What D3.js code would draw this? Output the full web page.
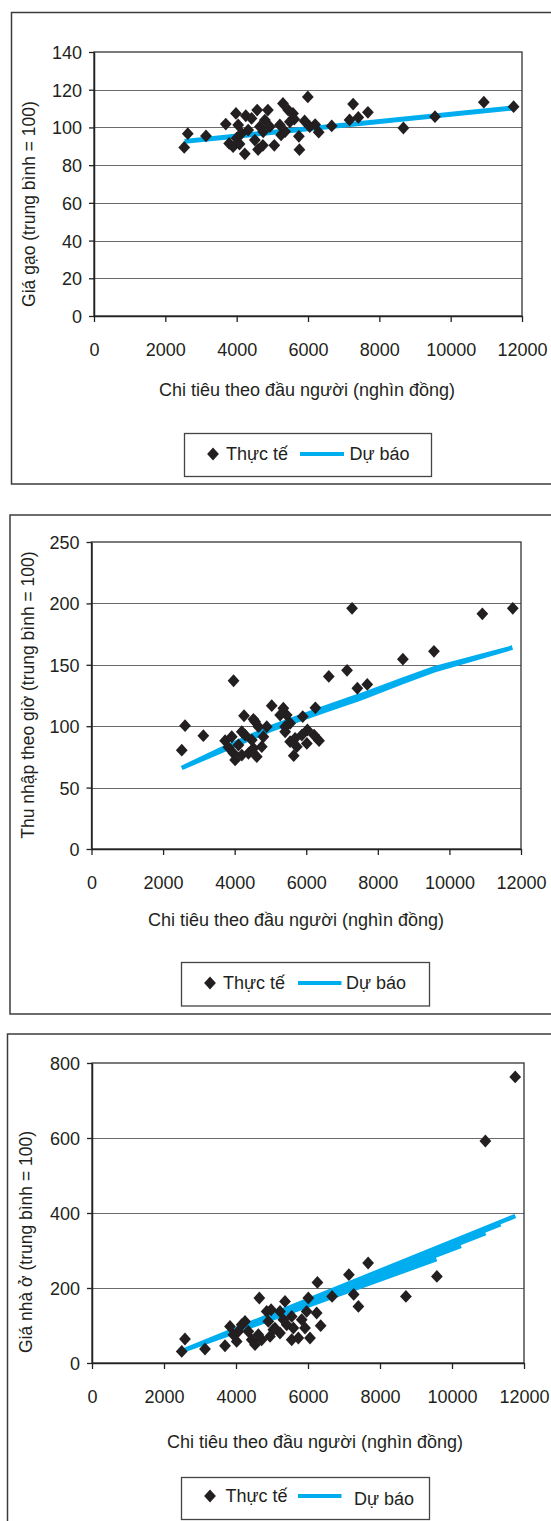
<!DOCTYPE html>
<html>
<head>
<meta charset="utf-8">
<script src="https://cdn.jsdelivr.net/npm/d3@7"></script>
<style>
  html, body { margin: 0; padding: 0; background: #fff; }
  svg { display: block; }
  text { font-family: "Liberation Sans", Arial, Helvetica, sans-serif; fill: #231f20; }
</style>
</head>
<body>
<svg id="chart" width="551" height="1521"></svg>
<script>
// ---- data -------------------------------------------------------------
const xTickValues = [0, 2000, 4000, 6000, 8000, 10000, 12000];
const xTitle = "Chi tiêu theo đầu người (nghìn đồng)";
const legendActual = "Thực tế";
const legendForecast = "Dự báo";

// Rice price vs. per-capita spending
const riceTicks = [0, 20, 40, 60, 80, 100, 120, 140];
const riceTitle = "Giá gạo (trung bình = 100)";
const riceX = [2530, 2630, 3140, 3695, 3790, 3980, 3900, 4228, 4256, 4080, 4600, 4735, 4575, 4875,
  5055, 5298, 5245, 5360, 5580, 5616, 5760, 5745, 5995, 5905, 6050, 6200, 6300, 6665, 7165, 7265,
  7410, 7680, 8675, 9560, 10930, 11765, 4043, 4137, 4417, 4323, 4651, 4791, 4931, 4510, 3997,
  4744, 5445, 5492, 5211];
const riceY = [89.4, 96.7, 95.5, 101.8, 91.5, 107.4, 89.8, 86, 106.2, 91.2, 88.3, 90.5, 109.2, 109.2,
  90.5, 112.7, 96, 97.8, 107.4, 104.4, 88.2, 95.3, 116.2, 103.4, 100.4, 101.5, 97.5, 100.8, 104, 112.4,
  105.3, 108, 99.7, 105.7, 113.4, 111, 101.3, 96.9, 104.8, 98.6, 100.4, 103.9, 100.4, 93.3, 94.3,
  97.7, 109.2, 103, 101.3];
const riceFitX = [2540, 11760];
const riceFitY = [92.6, 110.3];

// Hourly earnings vs. per-capita spending
const wageTicks = [0, 50, 100, 150, 200, 250];
const wageTitle = "Thu nhập theo giờ (trung bình = 100)";
const wageX = [2522, 2614, 3125, 3969, 4262, 5036, 5360, 5454, 5902, 6255, 6630, 7140, 7428, 7705,
  7280, 8700, 9568, 10920, 11770, 3733, 3826, 3966, 4013, 4106, 4200, 4292, 4385, 4525, 4572, 4665,
  4618, 4802, 4897, 4758, 4478, 3919, 4200, 4525, 5271, 5411, 5411, 5550, 5690, 5737, 5650, 5876,
  6016, 6032, 6218, 6358, 5550];
const wageY = [80.5, 100.4, 92.3, 137, 108.5, 116.7, 114.6, 109.1, 107.8, 115, 140.5, 145.5, 130.9,
  134, 196, 154.6, 161, 191.5, 196, 88.2, 82.8, 77.9, 72.5, 84.7, 76.5, 92.8, 77.9, 82, 103.7, 99.6,
  75.2, 91.4, 99.6, 83.3, 88.8, 91.4, 95.5, 105.6, 109.1, 99.6, 95.5, 87.4, 90.1, 83.3, 76, 92.8,
  86, 96.9, 92.8, 88.2, 102.4];
const wageFitX = [2520, 3600, 5000, 6500, 7500, 8700, 9570, 11760, 9570, 8700, 7500, 6500, 5000, 3600, 2520];
const wageFitY = [66, 81, 99, 115, 125, 138, 147, 164, 145.5, 136, 122.5, 112.5, 97, 79.5, 66];

// Housing price vs. per-capita spending
const houseTicks = [0, 200, 400, 600, 800];
const houseTitle = "Giá nhà ở (trung bình = 100)";
const houseX = [2492, 2583, 3139, 3695, 3833, 3926, 4019, 4065, 4158, 4250, 4343, 4436, 4528, 4648,
  4713, 4620, 4852, 4898, 4945, 5037, 5222, 5361, 5315, 5222, 5408, 5547, 5593, 5547, 5732, 5825,
  5917, 6056, 6009, 5963, 6241, 6352, 6262, 6670, 7136, 7270, 7400, 7670, 8720, 9580, 10927, 11756,
  4976, 5083];
const houseY = [31, 64, 37.3, 46, 97.6, 75.5, 57.6, 84.3, 102, 111, 84.3, 62, 48.8, 173.3, 62, 75.5,
  137.6, 111, 71, 88.8, 137.6, 164.3, 115.5, 80, 102, 124.3, 93.3, 62, 66.7, 115.5, 93.3, 66.7,
  173.3, 137.6, 133.3, 99.5, 215, 177.6, 235.5, 183, 151, 266.7, 177.6, 231, 592, 763, 142, 93];
const houseFitX = [2500, 9570, 2500, 10250, 2500, 10930, 2500, 11350, 2500, 11760];
const houseFitY = [32, 277, 32, 312, 32, 346, 32, 370, 32, 392];

// ---- layout of the three stacked charts --------------------------------
const panels = [
  { frame: [11.5, 12.5, 620, 471.5], plot: { l: 94, r: 522, t: 52, b: 316 },
    ticks: riceTicks, xs: riceX, ys: riceY, fx: riceFitX, fy: riceFitY, yTitle: riceTitle,
    yTitlePos: [29, 204], xLabelY: 350, xTitlePos: [307, 390], fitWidth: 5,
    legend: { box: [184.5, 433.5, 247, 43], cy: 454, diamondX: 213, textX: 226, lineX: [300, 344], text2X: 349.5, text2Dy: 0 } },
  { frame: [10, 515, 620, 499], plot: { l: 91.5, r: 521, t: 542, b: 849 },
    ticks: wageTicks, xs: wageX, ys: wageY, fx: wageFitX, fy: wageFitY, yTitle: wageTitle,
    yTitlePos: [28, 695], xLabelY: 883, xTitlePos: [296, 920], fitWidth: 4.5,
    legend: { box: [181.5, 962.5, 248, 43.5], cy: 983, diamondX: 210, textX: 223, lineX: [298, 341.5], text2X: 346, text2Dy: 0 } },
  { frame: [7.5, 1034, 620, 520], plot: { l: 92, r: 524, t: 1063, b: 1363 },
    ticks: houseTicks, xs: houseX, ys: houseY, fx: houseFitX, fy: houseFitY, yTitle: houseTitle,
    yTitlePos: [26, 1242], xLabelY: 1397, xTitlePos: [315, 1442], fitWidth: 4.5,
    legend: { box: [181.5, 1477.5, 248, 42], cy: 1496, diamondX: 210, textX: 225.5, lineX: [298, 341.5], text2X: 354, text2Dy: 3 } }
];

const svg = d3.select("#chart");
const ink = "#231f20";
const blue = "#00aeef";
const diamond = "M0,-6.4L5.9,0L0,6.4L-5.9,0Z";
const fontSize = 18;

panels.forEach(p => {
  const g = svg.append("g");
  const { l, r, t, b } = p.plot;
  const yMax = p.ticks[p.ticks.length - 1];
  const x = d3.scaleLinear().domain([0, 12000]).range([l, r]);
  const y = d3.scaleLinear().domain([0, yMax]).range([b, t]);

  // outer frame
  g.append("rect")
    .attr("x", p.frame[0]).attr("y", p.frame[1])
    .attr("width", p.frame[2]).attr("height", p.frame[3])
    .attr("fill", "none").attr("stroke", "#3c3c3c").attr("stroke-width", 1.5);

  // horizontal gridlines
  g.append("g").selectAll("line")
    .data(p.ticks.slice(1, -1))
    .join("line")
    .attr("x1", l).attr("x2", r)
    .attr("y1", d => Math.round(y(d)) + 0.5).attr("y2", d => Math.round(y(d)) + 0.5)
    .attr("stroke", "#6a6a6a").attr("stroke-width", 1.2);

  // plot area border
  g.append("rect")
    .attr("x", l).attr("y", t).attr("width", r - l).attr("height", b - t)
    .attr("fill", "none").attr("stroke", "#333").attr("stroke-width", 1.3);

  // x axis
  const xAxis = g.append("g")
    .attr("transform", `translate(0,${b})`)
    .call(d3.axisBottom(x).tickValues(xTickValues).tickFormat(d3.format("d")).tickSize(6).tickSizeOuter(0));
  xAxis.select(".domain").attr("stroke", "#222").attr("stroke-width", 1.5);
  xAxis.selectAll(".tick line").attr("stroke", "#222").attr("stroke-width", 1.3);
  xAxis.selectAll(".tick text")
    .attr("y", p.xLabelY - b).attr("dy", "0.35em")
    .style("font-size", fontSize + "px").attr("fill", ink);
  xAxis.attr("font-family", null);

  // y axis
  const yAxis = g.append("g")
    .attr("transform", `translate(${l},0)`)
    .call(d3.axisLeft(y).tickValues(p.ticks).tickFormat(d3.format("d")).tickSize(5).tickSizeOuter(0));
  yAxis.select(".domain").attr("stroke", "#222").attr("stroke-width", 1.5);
  yAxis.selectAll(".tick line").attr("stroke", "#222").attr("stroke-width", 1.3);
  yAxis.selectAll(".tick text")
    .attr("x", -12).attr("dy", "0.36em")
    .style("font-size", fontSize + "px").attr("fill", ink);
  yAxis.attr("font-family", null);

  // axis titles
  g.append("text")
    .attr("x", p.xTitlePos[0]).attr("y", p.xTitlePos[1]).attr("dy", "0.36em")
    .attr("text-anchor", "middle").style("font-size", fontSize + "px")
    .text(xTitle);
  g.append("text")
    .attr("transform", `translate(${p.yTitlePos[0]},${p.yTitlePos[1]}) rotate(-90)`)
    .attr("dy", "0.36em").attr("text-anchor", "middle").style("font-size", "17.5px")
    .text(p.yTitle);

  // forecast line (predicted values joined in data order)
  const fitPts = p.fx.map((v, i) => [v, p.fy[i]]);
  g.append("path")
    .datum(fitPts)
    .attr("d", d3.line().x(d => x(d[0])).y(d => y(d[1])))
    .attr("fill", "none").attr("stroke", blue).attr("stroke-width", p.fitWidth)
    .attr("stroke-linejoin", "miter").attr("stroke-miterlimit", 2);

  // observed values
  const pts = p.xs.map((v, i) => [v, p.ys[i]]);
  g.append("g").selectAll("path")
    .data(pts)
    .join("path")
    .attr("d", diamond)
    .attr("transform", d => `translate(${x(d[0])},${y(d[1])})`)
    .attr("fill", ink);

  // legend
  const L = p.legend;
  g.append("rect")
    .attr("x", L.box[0]).attr("y", L.box[1]).attr("width", L.box[2]).attr("height", L.box[3])
    .attr("fill", "#fff").attr("stroke", "#444").attr("stroke-width", 1.3);
  g.append("path").attr("d", diamond)
    .attr("transform", `translate(${L.diamondX},${L.cy})`).attr("fill", ink);
  g.append("text").attr("x", L.textX).attr("y", L.cy).attr("dy", "0.36em")
    .style("font-size", fontSize + "px").text(legendActual);
  g.append("line")
    .attr("x1", L.lineX[0]).attr("x2", L.lineX[1]).attr("y1", L.cy).attr("y2", L.cy)
    .attr("stroke", blue).attr("stroke-width", 4);
  g.append("text").attr("x", L.text2X).attr("y", L.cy + L.text2Dy).attr("dy", "0.36em")
    .style("font-size", fontSize + "px").text(legendForecast);
});
</script>
</body>
</html>
